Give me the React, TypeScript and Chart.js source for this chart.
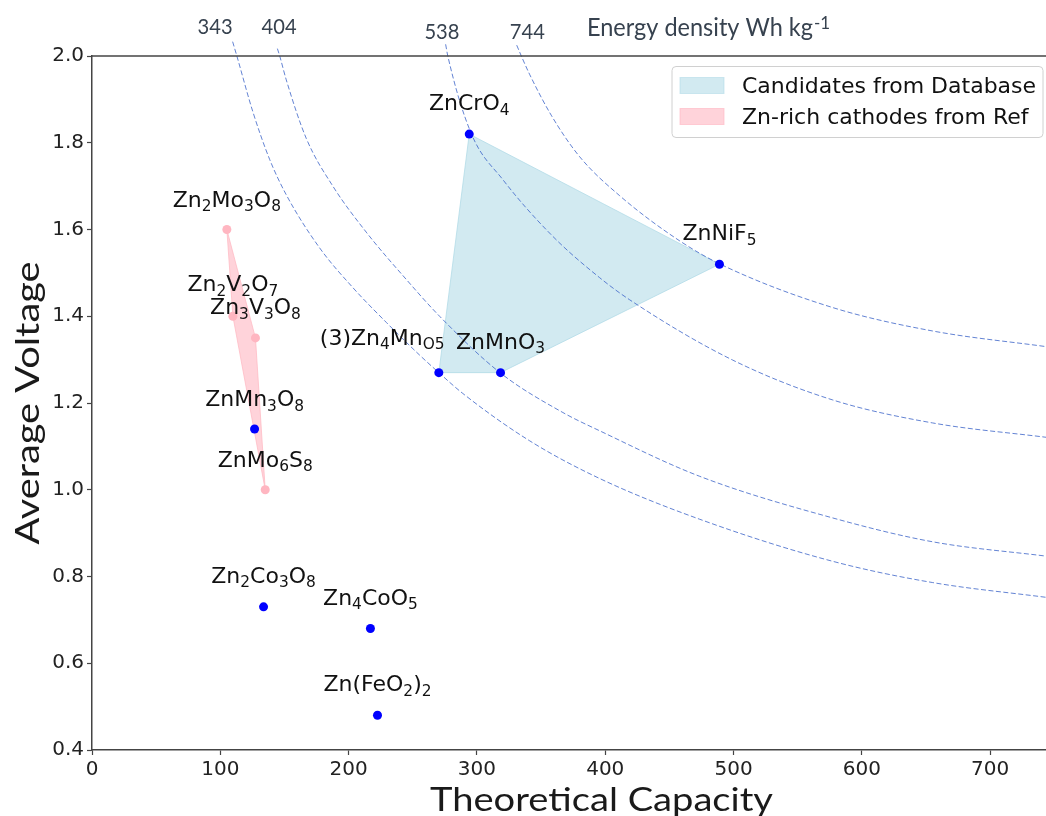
import React, { useEffect, useRef } from 'react';
import { Chart, registerables } from 'chart.js';

Chart.register(...registerables);

// ---------------- data ----------------
// Candidates from database (blue points); "_x" / "_{..}" marks subscripts
const candidateNames = ['ZnCrO_4', 'ZnNiF_5', 'ZnMnO_3', '(3)Zn_4Mn_{O5}', 'ZnMn_3O_8', 'Zn_2Co_3O_8', 'Zn_4CoO_5', 'Zn(FeO_2)_2'];
const candidateCapacity = [294, 489, 318.4, 270.3, 126.7, 133.7, 217, 222.5];
const candidateVoltage = [1.82, 1.52, 1.27, 1.27, 1.14, 0.73, 0.68, 0.48];
const candidateHull = [0, 1, 2, 3];

// Zn-rich cathodes from references (pink points)
const refNames = ['Zn_2Mo_3O_8', 'Zn_2V_2O_7', 'Zn_3V_3O_8', 'ZnMo_6S_8'];
const refCapacity = [105.1, 109.8, 127.4, 135];
const refVoltage = [1.6, 1.4, 1.35, 1.0];
const refHull = [0, 2, 3, 1];

// iso energy-density guide curves
const energyLabels = ['343', '404', '538', '744'];
const curve343C = [109.6, 112.9, 125.3, 138.4, 151.4, 177.3, 203.3, 229.3, 255.3, 270.3, 289, 341, 395.6, 473.6, 577.3, 655.2, 743.5];
const curve343V = [2.033, 2.0, 1.872, 1.762, 1.68, 1.558, 1.466, 1.386, 1.3105, 1.27, 1.222, 1.113, 1.026, 0.932, 0.835, 0.786, 0.752];
const curve404C = [144.5, 146.3, 151.4, 167, 187.7, 213.7, 244.9, 270.9, 318.4, 367, 395.6, 473.6, 577.3, 655.2, 743.5];
const curve404V = [2.017, 2.0, 1.945, 1.81, 1.7, 1.594, 1.485, 1.4, 1.269, 1.178, 1.136, 1.031, 0.935, 0.88, 0.847];
const curve538C = [275.6, 277.3, 295.6, 320.2, 359.2, 395.6, 419, 499.3, 577.3, 655.2, 743.5];
const curve538V = [2.027, 2.0, 1.821, 1.715, 1.584, 1.489, 1.438, 1.299, 1.207, 1.154, 1.121];
const curve744C = [331, 334.6, 341, 358.2, 380, 411.2, 457.9, 489.7, 577.3, 655.2, 743.5];
const curve744V = [2.025, 2.0, 1.958, 1.862, 1.768, 1.678, 1.574, 1.52, 1.42, 1.366, 1.33];

const xTicks = [0, 100, 200, 300, 400, 500, 600, 700];
const yTicks = [0.4, 0.6, 0.8, 1.0, 1.2, 1.4, 1.6, 1.8, 2.0];

const legendLabels = ['Candidates from Database', 'Zn-rich cathodes from Ref'];
const xTitle = 'Theoretical Capacity';
const yTitle = 'Average Voltage';
const energyTitle = 'Energy density Wh kg';
const energySup = '-1';

// ---------------- layout / style ----------------
const W = 1046;
const H = 816;
const X_MIN = 0;
const X_MAX = 743.5;
const Y_MIN = 0.4;
const Y_MAX = 2.0;
const SPINE = '#444444';
const CURVE_COLOR = 'rgba(60,100,200,0.8)';
const BLUE_FILL = 'rgba(173,216,230,0.55)';
const PINK_FILL = 'rgba(255,182,193,0.6)';
const MPL = '"DejaVu Sans"';
const PPT = 'Lato';
// per-label placement (pixel offsets from the point)
const candidateLabelLayout = [
  { dx: 0, dy: -24, align: 'center' },
  { dx: 0, dy: -24, align: 'center' },
  { dx: 0, dy: -24, align: 'center' },
  { dx: -119, dy: -28, align: 'left' },
  { dx: 0, dy: -23, align: 'center' },
  { dx: 0, dy: -24, align: 'center' },
  { dx: 0, dy: -24, align: 'center' },
  { dx: 0, dy: -24, align: 'center' },
];
const refLabelLayout = [
  { dx: 0, dy: -23, align: 'center' },
  { dx: 0, dy: -25, align: 'center' },
  { dx: 0, dy: -24, align: 'center' },
  { dx: 0, dy: -23, align: 'center' },
];
const energyLabelX = [95.9, 145.8, 272.7, 339.3];
const energyLabelDy = [-22, -22, -17, -17];

type Seg = { t: string; sub: boolean };
function parseRich(s: string): Seg[] {
  const out: Seg[] = [];
  let buf = '';
  let i = 0;
  while (i < s.length) {
    const c = s[i];
    if (c === '_') {
      if (buf) {
        out.push({ t: buf, sub: false });
        buf = '';
      }
      if (s[i + 1] === '{') {
        const j = s.indexOf('}', i + 2);
        out.push({ t: s.slice(i + 2, j), sub: true });
        i = j + 1;
      } else {
        out.push({ t: s[i + 1], sub: true });
        i += 2;
      }
    } else {
      buf += c;
      i++;
    }
  }
  if (buf) out.push({ t: buf, sub: false });
  return out;
}

function drawRich(ctx: CanvasRenderingContext2D, text: string, x: number, y: number, align: string, size: number, color: string) {
  const segs = parseRich(text);
  const subSize = size * 0.7;
  let total = 0;
  const widths = segs.map((sg) => {
    ctx.font = `${sg.sub ? subSize : size}px ${MPL}`;
    const w = ctx.measureText(sg.t).width;
    total += w;
    return w;
  });
  let cx = align === 'center' ? x - total / 2 : align === 'right' ? x - total : x;
  ctx.fillStyle = color;
  ctx.textAlign = 'left';
  ctx.textBaseline = 'alphabetic';
  segs.forEach((sg, i) => {
    ctx.font = `${sg.sub ? subSize : size}px ${MPL}`;
    ctx.fillText(sg.t, cx, y + (sg.sub ? size * 0.21 : 0));
    cx += widths[i];
  });
}

function drawFitted(ctx: CanvasRenderingContext2D, text: string, font: string, targetW: number, align: CanvasTextAlign) {
  ctx.font = font;
  const w = ctx.measureText(text).width;
  ctx.scale(targetW / w, 1);
  ctx.textAlign = align;
  ctx.textBaseline = 'alphabetic';
  ctx.fillText(text, 0, 0);
}

const overlayPlugin = {
  id: 'overlay',
  afterDatasetsDraw(chart: any) {
    const { ctx, chartArea: ca } = chart;
    const xs = chart.scales.x;
    const ys = chart.scales.y;
    ctx.save();

    // top spine
    ctx.strokeStyle = SPINE;
    ctx.lineWidth = 1.5;
    ctx.beginPath();
    ctx.moveTo(ca.left, ca.top);
    ctx.lineTo(ca.right, ca.top);
    ctx.stroke();

    // point labels
    candidateNames.forEach((n, i) => {
      const L = candidateLabelLayout[i];
      const px = xs.getPixelForValue(candidateCapacity[i]);
      const py = ys.getPixelForValue(candidateVoltage[i]);
      drawRich(ctx, n, px + L.dx, py + L.dy, L.align, 22, '#111');
    });
    refNames.forEach((n, i) => {
      const L = refLabelLayout[i];
      const px = xs.getPixelForValue(refCapacity[i]);
      const py = ys.getPixelForValue(refVoltage[i]);
      drawRich(ctx, n, px + L.dx, py + L.dy, L.align, 22, '#111');
    });

    // energy density labels along the top
    ctx.fillStyle = '#37424f';
    energyLabels.forEach((t, i) => {
      ctx.save();
      ctx.translate(xs.getPixelForValue(energyLabelX[i]), ca.top + energyLabelDy[i]);
      drawFitted(ctx, t, `21px ${PPT}`, 35, 'center');
      ctx.restore();
    });
    ctx.save();
    ctx.translate(587, 36);
    drawFitted(ctx, energyTitle, `25px ${PPT}`, 226, 'left');
    ctx.restore();
    ctx.font = `17px ${PPT}`;
    ctx.textAlign = 'left';
    ctx.fillText(energySup, 814, 29);

    // legend
    const lx = ca.right - 374;
    const ly = ca.top + 10.5;
    ctx.beginPath();
    ctx.roundRect(lx, ly, 371, 71, 4);
    ctx.fillStyle = 'rgba(255,255,255,0.8)';
    ctx.fill();
    ctx.strokeStyle = '#d0d0d0';
    ctx.lineWidth = 1;
    ctx.stroke();
    const patches = [BLUE_FILL, PINK_FILL];
    legendLabels.forEach((t, i) => {
      const py = ly + 11 + i * 31;
      ctx.fillStyle = patches[i];
      ctx.strokeStyle = patches[i];
      ctx.fillRect(lx + 8, py, 44, 16);
      ctx.strokeRect(lx + 8, py, 44, 16);
      ctx.fillStyle = '#111';
      ctx.font = `22px ${MPL}`;
      ctx.textAlign = 'left';
      ctx.textBaseline = 'alphabetic';
      ctx.fillText(t, lx + 70, py + 15.5);
    });

    // axis titles
    ctx.fillStyle = '#1a1a1a';
    ctx.save();
    ctx.translate((ca.left + ca.right) / 2 + 32.5, 811);
    drawFitted(ctx, xTitle, `32px ${PPT}`, 343, 'center');
    ctx.restore();
    ctx.save();
    ctx.translate(39, (ca.top + ca.bottom) / 2);
    ctx.rotate(-Math.PI / 2);
    drawFitted(ctx, yTitle, `32px ${PPT}`, 283, 'center');
    ctx.restore();

    ctx.restore();
  },
};

function curveData(cs: number[], vs: number[]) {
  return cs.map((c, i) => ({ x: c, y: vs[i] }));
}

export default function App() {
  const ref = useRef<HTMLCanvasElement | null>(null);

  useEffect(() => {
    if (!ref.current) return;
    const hull = (idx: number[], cs: number[], vs: number[]) => {
      const pts = idx.map((k) => ({ x: cs[k], y: vs[k] }));
      return [...pts, pts[0]];
    };
    const curveDs = (cs: number[], vs: number[]) => ({
      data: curveData(cs, vs),
      showLine: true,
      borderColor: CURVE_COLOR,
      borderWidth: 1,
      borderDash: [5, 2.5],
      pointRadius: 0,
      fill: false,
      cubicInterpolationMode: 'monotone',
      clip: false,
      order: 1,
    });
    const chart = new Chart(ref.current, {
      type: 'scatter',
      data: {
        datasets: [
          {
            data: candidateCapacity.map((c, i) => ({ x: c, y: candidateVoltage[i] })),
            backgroundColor: '#0000ff',
            borderColor: '#0000ff',
            borderWidth: 0,
            pointRadius: 4.5,
            order: 0,
          },
          {
            data: refCapacity.map((c, i) => ({ x: c, y: refVoltage[i] })),
            backgroundColor: '#ffb6c1',
            borderColor: '#ffb6c1',
            borderWidth: 0,
            pointRadius: 4.5,
            order: 0,
          },
          curveDs(curve343C, curve343V),
          curveDs(curve404C, curve404V),
          curveDs(curve538C, curve538V),
          curveDs(curve744C, curve744V),
          {
            data: hull(candidateHull, candidateCapacity, candidateVoltage),
            showLine: true,
            fill: 'shape',
            backgroundColor: BLUE_FILL,
            borderColor: 'rgba(173,216,230,0.7)',
            borderWidth: 1,
            pointRadius: 0,
            order: 2,
          },
          {
            data: hull(refHull, refCapacity, refVoltage),
            showLine: true,
            fill: 'shape',
            backgroundColor: PINK_FILL,
            borderColor: 'rgba(255,182,193,0.7)',
            borderWidth: 1,
            pointRadius: 0,
            order: 2,
          },
        ] as any,
      },
      options: {
        animation: false,
        responsive: false,
        devicePixelRatio: 1,
        layout: { autoPadding: false, padding: { left: 0, right: 0, top: 56, bottom: 0 } },
        plugins: { legend: { display: false }, tooltip: { enabled: false } },
        scales: {
          x: {
            type: 'linear',
            min: X_MIN,
            max: X_MAX,
            afterFit: (s: any) => {
              s.height = 66;
              s.paddingLeft = 0;
              s.paddingRight = 0;
            },
            afterBuildTicks: (s: any) => {
              s.ticks = xTicks.map((v) => ({ value: v }));
            },
            ticks: {
              font: { family: 'DejaVu Sans', size: 20 },
              color: '#222',
              padding: 3,
              maxRotation: 0,
              autoSkip: false,
              callback: (v: any) => String(v),
            },
            grid: { drawOnChartArea: false, drawTicks: true, tickLength: 5, tickColor: SPINE, tickWidth: 1.2 },
            border: { display: true, color: SPINE, width: 1.5 },
          },
          y: {
            type: 'linear',
            min: Y_MIN,
            max: Y_MAX,
            afterFit: (s: any) => {
              s.width = 92;
              s.paddingTop = 0;
              s.paddingBottom = 0;
            },
            afterBuildTicks: (s: any) => {
              s.ticks = yTicks.map((v) => ({ value: v }));
            },
            ticks: {
              font: { family: 'DejaVu Sans', size: 20 },
              color: '#222',
              padding: 3,
              autoSkip: false,
              callback: (v: any) => Number(v).toFixed(1),
            },
            grid: { drawOnChartArea: false, drawTicks: true, tickLength: 5, tickColor: SPINE, tickWidth: 1.2 },
            border: { display: true, color: SPINE, width: 1.5 },
          },
        },
      } as any,
      plugins: [overlayPlugin],
    });
    return () => chart.destroy();
  }, []);

  return (
    <div style={{ position: 'absolute', left: 0, top: 0, width: W, height: H, background: '#fff' }}>
      <canvas ref={ref} width={W} height={H} style={{ display: 'block', width: W, height: H }} />
    </div>
  );
}
